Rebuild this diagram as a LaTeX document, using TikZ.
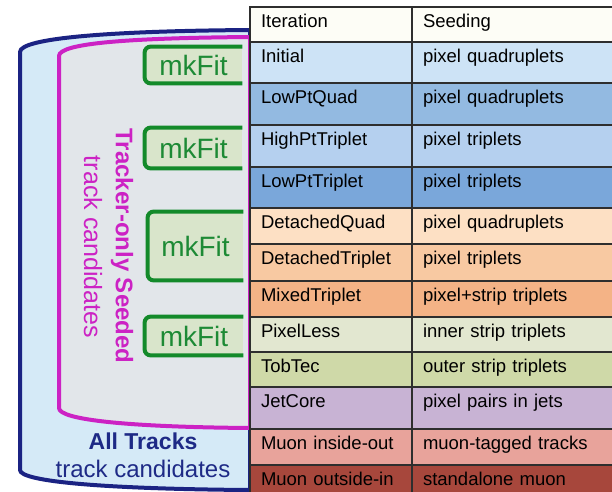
\documentclass[tikz,border=0pt]{standalone}
\usepackage{fontspec}
\setmainfont{Liberation Sans}
\usetikzlibrary{positioning}

\definecolor{navy}{HTML}{1B2383}
\definecolor{alltext}{HTML}{1E2A86}
\definecolor{allfill}{HTML}{D5EAF7}
\definecolor{magenta}{HTML}{CC22C4}
\definecolor{seedfill}{HTML}{E2E6EA}
\definecolor{fitgreen}{HTML}{138A2A}
\definecolor{fitfill}{HTML}{D9E5CB}
\definecolor{fittext}{HTML}{1D8A35}
\definecolor{tabline}{HTML}{2E2E2E}
\definecolor{hdcol}{HTML}{FDFDF6}
\definecolor{inicol}{HTML}{CDE3F6}
\definecolor{lpqcol}{HTML}{93BAE1}
\definecolor{hptcol}{HTML}{B5D0EF}
\definecolor{lptcol}{HTML}{7AA7DA}
\definecolor{dqcol}{HTML}{FDE0C4}
\definecolor{dtcol}{HTML}{F8C9A2}
\definecolor{mtcol}{HTML}{F4B386}
\definecolor{plcol}{HTML}{E2E7D0}
\definecolor{ttcol}{HTML}{CFD9A8}
\definecolor{jccol}{HTML}{C8B3D4}
\definecolor{micol}{HTML}{E8A39B}
\definecolor{mocol}{HTML}{A7473C}

\begin{document}
\begin{tikzpicture}[x=1pt, y=-1pt, thick,
    cell/.style={draw=tabline, line width=1.5pt, rectangle, inner xsep=11pt, inner ysep=0pt,
                 outer sep=0pt, text height=20pt, align=left, font=\fontsize{18.5}{20}\selectfont},
    itcell/.style={cell, text width=140pt, anchor=north west},
    seedcell/.style={cell, text width=186pt},
    fitbox/.style={fill=fitfill, inner sep=0pt, text=fittext, font=\fontsize{28}{30}\selectfont},
    fitline/.style={draw=fitgreen, line width=4pt, rounded corners=6pt}]
        \useasboundingbox (0,0) rectangle (612,491);
        \clip (0,0) rectangle (612,491);

        % Outer shapes
        \draw[navy, line width=4pt, fill=allfill] (250,30) .. controls (110,31) and (20,38) .. (20,52)
            -- (20,470) .. controls (20,482) and (110,489) .. (250,490) -- cycle;
        \draw[magenta, line width=4pt, fill=seedfill] (250,37) .. controls (130,38) and (59,43) .. (59,56)
            -- (59,408) .. controls (59,420) and (130,427) .. (250,428) -- cycle;

        % mkFit boxes
        \node (fit1) [fitbox, minimum width=97pt, minimum height=36pt] at (193.5,65) {mkFit};
        \node (fit2) [fitbox, minimum width=97pt, minimum height=40pt] at (193.5,148) {mkFit};
        \node (fit3) [fitbox, minimum width=95pt, minimum height=68pt] at (195.5,246) {mkFit};
        \node (fit4) [fitbox, minimum width=98pt, minimum height=38pt] at (194,336) {mkFit};
        \foreach \f in {fit1,fit2,fit3,fit4}
            \draw[fitline] (\f.north east) -- (\f.north west) -- (\f.south west) -- (\f.south east);

        % Labels
        \node (trk) [rotate=-90, text=magenta, font=\fontsize{24}{26}\selectfont\bfseries] at (122,246) {Tracker-only Seeded};
        \node (trkc) [rotate=-90, text=magenta, font=\fontsize{25}{27}\selectfont] at (93,247) {track candidates};
        \node (all) [text=alltext, font=\fontsize{23}{25}\selectfont\bfseries] at (143,441) {All Tracks};
        \node (allc) [text=alltext, font=\fontsize{24}{26}\selectfont] at (143,469) {track candidates};

        % Table
        \node (it0) [itcell, fill=hdcol, text depth=15pt] at (250,7) {Iteration};
        \node (se0) [seedcell, fill=hdcol, text depth=15pt, right=0pt of it0] {Seeding};
        \foreach \iter/\seed/\col/\d [count=\i, remember=\i as \j (initially 0)] in {
            Initial/pixel quadruplets/inicol/21,
            LowPtQuad/pixel quadruplets/lpqcol/22,
            HighPtTriplet/pixel triplets/hptcol/22,
            LowPtTriplet/pixel triplets/lptcol/21,
            DetachedQuad/pixel quadruplets/dqcol/16,
            DetachedTriplet/pixel triplets/dtcol/17,
            MixedTriplet/pixel+strip triplets/mtcol/16,
            PixelLess/inner strip triplets/plcol/15,
            TobTec/outer strip triplets/ttcol/15,
            JetCore/pixel pairs in jets/jccol/22,
            Muon inside-out/muon-tagged tracks/micol/16,
            Muon outside-in/standalone muon/mocol/12} {
            \node (it\i) [itcell, fill=\col, text depth=\d pt] at (it\j.south west) {\iter};
            \node (se\i) [seedcell, fill=\col, text depth=\d pt, right=0pt of it\i] {\seed};
        }
    \end{tikzpicture}
\end{document}
